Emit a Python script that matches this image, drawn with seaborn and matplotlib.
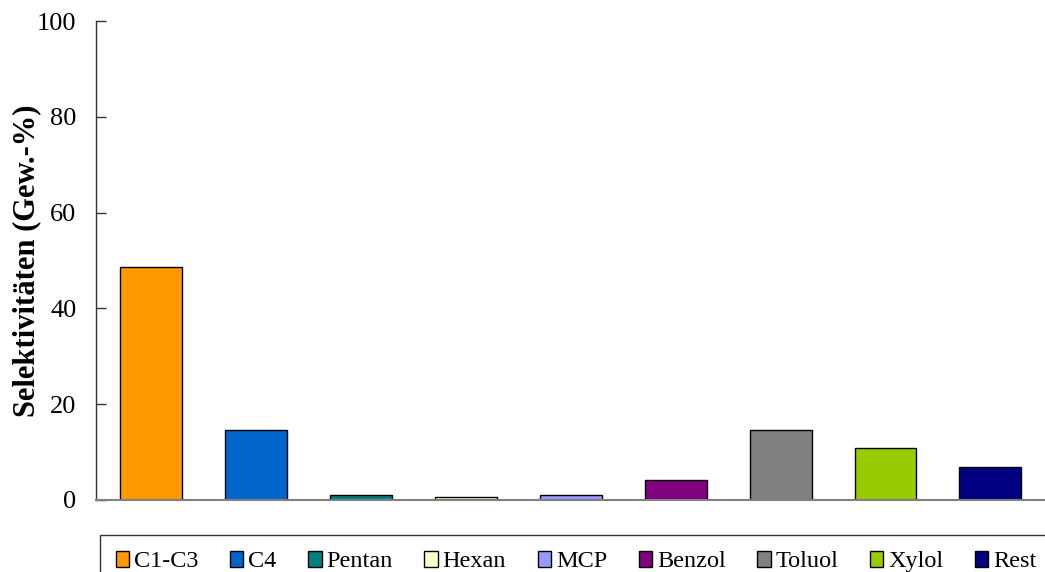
import numpy as np
import pandas as pd
import matplotlib
matplotlib.use('Agg')
import matplotlib.pyplot as plt
from matplotlib.patches import Patch
import seaborn as sns

# data
komponenten = ['C1-C3', 'C4', 'Pentan', 'Hexan', 'MCP', 'Benzol', 'Toluol', 'Xylol', 'Rest']
selektivitaet = [48.6, 14.6, 1.0, 0.6, 1.0, 4.2, 14.6, 10.9, 6.9]
farben = ['#FF9900', '#0066CC', '#008080', '#FFFFCC', '#9999FF',
          '#800080', '#808080', '#99CC00', '#000080']

df = pd.DataFrame({'Komponente': komponenten, 'Selektivitaet': selektivitaet})

sns.set_style('white')
plt.rcParams['font.family'] = ['Liberation Serif', 'DejaVu Serif']
plt.rcParams['text.color'] = 'black'
plt.rcParams['axes.labelcolor'] = 'black'
plt.rcParams['ytick.color'] = 'black'

fig = plt.figure(figsize=(10.45, 5.72), dpi=100)
ax = fig.add_axes([96/1045, 1 - 500/572, 1 - 96/1045, (500 - 21)/572])

sns.barplot(data=df, x='Komponente', y='Selektivitaet', hue='Komponente',
            palette=farben, saturation=1, legend=False, width=0.59,
            edgecolor='black', linewidth=1, ax=ax)

ax.set_xlim(-0.524, 8.52)
ax.set_ylim(0, 100)
ax.set_yticks(np.arange(0, 101, 20))
ax.set_xticks([])
ax.set_xlabel('')
ax.set_ylabel('Selektivitäten (Gew.-%)', fontsize=22, fontweight='bold')
ax.yaxis.set_label_coords(-0.058, 0.5)
ax.tick_params(axis='y', direction='in', length=7, width=1, color='#333333',
               labelsize=19, left=True, pad=14)

for s in ['top', 'right']:
    ax.spines[s].set_visible(False)
ax.spines['left'].set_color('#333333')
ax.spines['bottom'].set_color('#808080')
ax.spines['left'].set_linewidth(1)
ax.spines['bottom'].set_linewidth(1.5)

# legend at the bottom, cut off at the image edge like in the original
handles = [Patch(facecolor=c, edgecolor='black', linewidth=1) for c in farben]
leg = fig.legend(handles, komponenten, loc='upper left',
                 bbox_to_anchor=(100/1045, 1 - 535/572), ncol=9,
                 fontsize=17.5, frameon=True, fancybox=False, edgecolor='black',
                 handlelength=0.55, handleheight=0.65, handletextpad=0.2,
                 columnspacing=1.3, borderpad=0.65, borderaxespad=0)
leg.get_frame().set_linewidth(1)

fig.savefig('out.png', dpi=100)
